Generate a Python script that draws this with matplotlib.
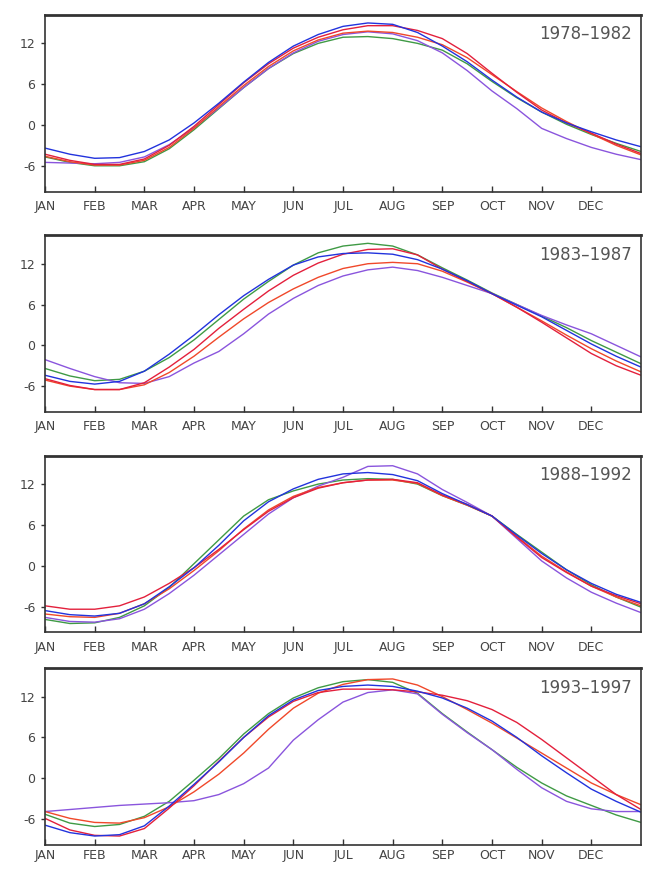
import numpy as np
import matplotlib
matplotlib.use('Agg')
from matplotlib import pyplot as plt

# half-month positions, 0 = 1 Jan, 12 = end of Dec
months = np.arange(0, 12.5, 0.5)
month_labels = ['JAN', 'FEB', 'MAR', 'APR', 'MAY', 'JUN',
                'JUL', 'AUG', 'SEP', 'OCT', 'NOV', 'DEC']
periods = ['1978\u20131982', '1983\u20131987', '1988\u20131992', '1993\u20131997']

# 1978-1982
p1_red = [-4.3, -5.2, -5.8, -5.8, -5.0, -3.0, -0.2, 3.0, 6.2, 9.0, 11.3, 12.9, 14.0,
          14.6, 14.6, 13.9, 12.7, 10.5, 7.6, 4.8, 2.2, 0.3, -1.2, -2.8, -4.2]
p1_orange = [-4.6, -5.4, -5.9, -5.9, -5.2, -3.3, -0.5, 2.7, 5.8, 8.6, 10.9, 12.5, 13.5,
             13.8, 13.6, 12.9, 11.8, 9.9, 7.4, 4.9, 2.5, 0.5, -1.3, -3.0, -4.4]
p1_blue = [-3.4, -4.3, -4.9, -4.8, -3.9, -2.2, 0.3, 3.2, 6.3, 9.2, 11.6, 13.3, 14.5,
           15.0, 14.8, 13.6, 11.6, 9.3, 6.6, 4.1, 1.9, 0.3, -1.0, -2.2, -3.2]
p1_green = [-4.7, -5.5, -6.0, -6.0, -5.4, -3.5, -0.7, 2.4, 5.5, 8.3, 10.5, 12.0, 12.9,
            13.0, 12.7, 12.0, 11.0, 9.0, 6.4, 4.0, 1.9, 0.1, -1.4, -2.7, -3.9]
p1_purple = [-5.5, -5.6, -5.7, -5.5, -4.7, -2.9, -0.4, 2.5, 5.5, 8.3, 10.6, 12.3, 13.3,
             13.7, 13.4, 12.4, 10.6, 8.0, 5.0, 2.4, -0.5, -2.0, -3.3, -4.3, -5.1]

# 1983-1987
p2_red = [-4.9, -5.9, -6.5, -6.5, -5.5, -3.2, -0.6, 2.5, 5.3, 8.0, 10.3, 12.1, 13.4,
          14.1, 14.2, 13.3, 11.2, 9.4, 7.6, 5.6, 3.4, 1.1, -1.2, -3.0, -4.4]
p2_orange = [-5.1, -6.0, -6.5, -6.5, -5.8, -4.0, -1.6, 1.2, 3.9, 6.3, 8.3, 10.0, 11.3,
             12.0, 12.2, 12.0, 10.9, 9.3, 7.6, 5.6, 3.6, 1.5, -0.5, -2.3, -3.9]
p2_blue = [-4.4, -5.3, -5.7, -5.3, -3.8, -1.3, 1.5, 4.5, 7.3, 9.7, 11.8, 13.0, 13.5,
           13.6, 13.4, 12.6, 11.2, 9.5, 7.6, 5.9, 4.2, 2.2, 0.2, -1.6, -3.2]
p2_green = [-3.4, -4.5, -5.2, -5.0, -3.8, -1.8, 0.8, 3.8, 6.8, 9.4, 11.8, 13.6, 14.6,
            15.0, 14.6, 13.3, 11.4, 9.6, 7.7, 6.0, 4.3, 2.6, 0.7, -1.0, -2.7]
p2_purple = [-2.1, -3.4, -4.6, -5.5, -5.6, -4.6, -2.6, -0.9, 1.7, 4.6, 6.9, 8.8, 10.2,
             11.1, 11.5, 11.0, 10.0, 8.8, 7.6, 6.0, 4.4, 3.0, 1.7, 0.0, -1.7]

# 1988-1992
p3_red = [-5.9, -6.4, -6.4, -5.9, -4.6, -2.6, -0.3, 2.4, 5.3, 8.0, 10.0, 11.4, 12.2,
          12.6, 12.7, 12.2, 10.4, 9.0, 7.3, 4.2, 1.2, -1.0, -3.0, -4.4, -5.6]
p3_orange = [-7.1, -7.5, -7.6, -7.0, -5.6, -3.4, -0.7, 2.2, 5.4, 8.2, 10.2, 11.5, 12.2,
             12.6, 12.6, 12.1, 10.3, 8.9, 7.3, 4.3, 1.4, -0.9, -3.0, -4.6, -5.9]
p3_blue = [-6.6, -7.2, -7.4, -7.0, -5.6, -3.1, -0.3, 3.0, 6.6, 9.4, 11.3, 12.7, 13.5,
           13.7, 13.4, 12.5, 10.6, 9.0, 7.3, 4.5, 1.8, -0.6, -2.6, -4.2, -5.4]
p3_green = [-7.9, -8.5, -8.4, -7.6, -5.9, -3.2, 0.3, 3.8, 7.3, 9.7, 11.0, 12.0, 12.6,
            12.8, 12.7, 12.0, 10.3, 8.9, 7.3, 4.6, 2.0, -0.6, -2.8, -4.6, -6.1]
p3_purple = [-7.6, -8.2, -8.3, -7.8, -6.4, -4.1, -1.4, 1.6, 4.6, 7.6, 10.0, 11.7, 13.0,
             14.6, 14.7, 13.5, 11.2, 9.3, 7.3, 4.0, 0.7, -1.8, -3.9, -5.5, -6.9]

# 1993-1997
p4_red = [-5.9, -7.6, -8.4, -8.5, -7.4, -4.4, -1.1, 2.5, 6.0, 9.0, 11.3, 12.6, 13.1,
          13.1, 13.0, 12.7, 12.2, 11.4, 10.1, 8.2, 5.7, 3.0, 0.3, -2.4, -4.6]
p4_orange = [-4.9, -5.9, -6.5, -6.6, -5.8, -4.2, -2.0, 0.6, 3.7, 7.2, 10.3, 12.5, 13.8,
             14.5, 14.6, 13.7, 12.0, 10.1, 8.1, 5.9, 3.7, 1.5, -0.7, -2.4, -3.9]
p4_blue = [-6.9, -8.0, -8.5, -8.3, -7.0, -4.1, -0.9, 2.4, 6.0, 9.2, 11.5, 12.9, 13.5,
           13.7, 13.5, 12.8, 11.8, 10.3, 8.4, 6.0, 3.3, 0.8, -1.6, -3.4, -5.0]
p4_green = [-5.3, -6.6, -7.1, -6.8, -5.6, -3.4, -0.3, 2.9, 6.5, 9.5, 11.8, 13.3, 14.2,
            14.5, 14.1, 12.5, 9.5, 6.8, 4.2, 1.6, -0.7, -2.6, -4.0, -5.4, -6.5]
p4_purple = [-4.9, -4.6, -4.3, -4.0, -3.8, -3.6, -3.3, -2.4, -0.8, 1.5, 5.6, 8.6, 11.2,
             12.6, 13.0, 12.4, 9.4, 6.7, 4.2, 1.3, -1.4, -3.4, -4.5, -4.9, -4.9]

panels = [
    [p1_red, p1_orange, p1_blue, p1_green, p1_purple],
    [p2_red, p2_orange, p2_blue, p2_green, p2_purple],
    [p3_red, p3_orange, p3_blue, p3_green, p3_purple],
    [p4_red, p4_orange, p4_blue, p4_green, p4_purple],
]
colors = ['#e3203c', '#f0482a', '#2233dd', '#3f9a45', '#8a55dd']

fig = plt.figure(figsize=(6.45, 8.71), dpi=100)
bottoms = [0.780, 0.527, 0.274, 0.030]

for i in range(4):
    ax = fig.add_axes([0.0698, bottoms[i], 0.924, 0.203])
    # green/purple first so reds and blue sit on top
    for j in [3, 4, 1, 0, 2]:
        ax.plot(months, panels[i][j], color=colors[j], lw=1.0)
    ax.set_xlim(0, 12)
    ax.set_ylim(-9.8, 16.2)
    ax.set_xticks(range(12))
    ax.set_xticklabels(month_labels)
    ax.set_yticks([-6, 0, 6, 12])
    ax.set_yticklabels(['-6', '0', '6', '12'])
    xpad = 6 if i < 3 else 3
    ax.tick_params(axis='x', direction='in', length=4, width=1, colors='#333333',
                   labelsize=9, labelcolor='#444444', pad=xpad)
    ax.tick_params(axis='y', direction='out', length=3, width=1, colors='#333333',
                   labelsize=9, labelcolor='#444444', pad=4)
    for s in ax.spines.values():
        s.set_color('#333333')
        s.set_linewidth(1.2)
    ax.spines['top'].set_linewidth(2.0)
    ax.text(0.985, 0.89, periods[i], transform=ax.transAxes, ha='right', va='center',
            fontsize=12, color='#555555')

fig.savefig('out.png', dpi=100)
